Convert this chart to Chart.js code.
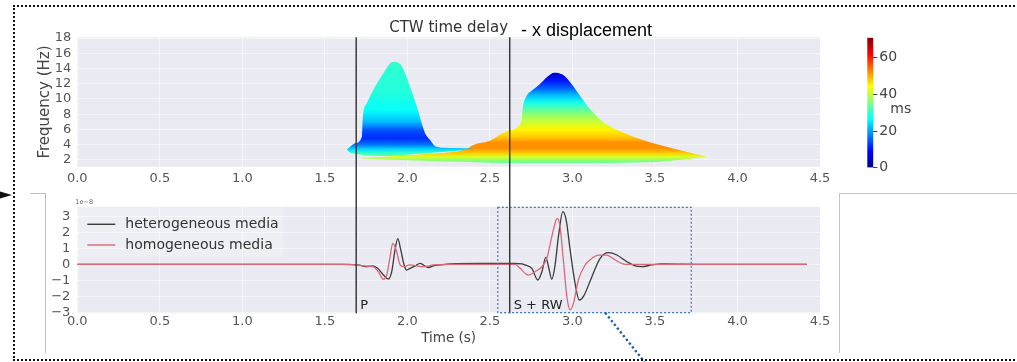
<!DOCTYPE html>
<html>
<head>
<meta charset="utf-8">
<script src="https://cdn.jsdelivr.net/npm/chart.js@4.4.1/dist/chart.umd.min.js"></script>
<style>
  html, body { margin: 0; padding: 0; background: #fff; }
  body { width: 1017px; height: 362px; position: relative; overflow: hidden; font-family: 'DejaVu Sans', sans-serif; }
  canvas { position: absolute; }
  .ov { position: absolute; pointer-events: none; }
</style>
</head>
<body>
<canvas id="topChart" width="850" height="190" style="left:0;top:0"></canvas>
<canvas id="cbarChart" width="80" height="190" style="left:850px;top:0"></canvas>
<canvas id="botChart" width="850" height="172" style="left:0;top:190px"></canvas>

<div class="ov" style="left:13px;top:5px;width:1004px;height:352px;border-top:2px dotted #111;border-left:2px dotted #111;border-bottom:2px dotted #111;"></div>
<svg class="ov" style="left:0;top:185px" width="16" height="20"><polygon points="0,6.5 12,10 0,13.5" fill="#111"/></svg>
<div class="ov" style="left:30px;top:193px;width:15px;height:159px;border-top:1.5px solid #bdbdbd;border-right:1.5px solid #bdbdbd;"></div>
<div class="ov" style="left:839px;top:193px;width:180px;height:159px;border-top:1.5px solid #c4c4c4;border-left:1.5px solid #c4c4c4;"></div>
<div class="ov" style="left:521px;top:20px;font-family:'Liberation Sans',Arial,sans-serif;font-size:18px;line-height:20px;color:#000;white-space:nowrap;">- x displacement</div>

<script>
// ---------------- DATA ----------------
// shared time axis (s)
const timeTicks = [0, 0.5, 1.0, 1.5, 2.0, 2.5, 3.0, 3.5, 4.0, 4.5];
const freqTicks = [2, 4, 6, 8, 10, 12, 14, 16, 18];
const ampTicks = [-3, -2, -1, 0, 1, 2, 3];
const delayTicks = [0, 20, 40, 60];
const delayMax = 71;                 // ms, colour-bar top
const arrivalTimes = [1.69, 2.62];   // s
const arrivalLabels = ['P', 'S + RW'];
const zoomBoxTimes = [2.548, 3.72];  // highlighted window (s)

// Blob A (P-wave packet): time, upper / lower frequency envelope (Hz)
const blobATime  = [1.633, 1.652, 1.683, 1.724, 1.730, 1.754, 1.794, 1.855, 1.895, 1.925, 1.966, 2.016, 2.057, 2.087, 2.107, 2.138, 2.168, 2.23, 2.30, 2.40];
const blobAUpper = [3.39, 3.7, 4.18, 5.05, 7.7, 9.45, 11.2, 13.4, 14.7, 14.9, 14.3, 11.6, 9.0, 6.8, 5.5, 4.6, 3.8, 3.6, 3.55, 3.45];
const blobALower = [3.39, 2.95, 2.78, 2.66, 2.64, 2.6, 2.55, 2.5, 2.52, 2.55, 2.6, 2.7, 2.78, 2.82, 2.85, 2.9, 2.95, 3.05, 3.2, 3.35];
// delay (ms) as a function of frequency inside blob A
const blobAStopFreq  = [2.4, 2.9, 3.4, 4.0, 4.8, 5.8, 7.0, 8.5, 11, 15];
const blobAStopDelay = [35, 30, 24, 17, 12, 14, 22, 27, 29, 30];

// Blob B (S + surface-wave packet)
const blobBTime  = [1.70, 2.00, 2.20, 2.30, 2.36, 2.40, 2.50, 2.56, 2.62, 2.69, 2.70, 2.72, 2.76, 2.80, 2.85, 2.89, 2.94, 2.99, 3.05, 3.11, 3.17, 3.25, 3.37, 3.53, 3.69, 3.815];
const blobBUpper = [2.2, 2.6, 2.9, 3.1, 3.45, 3.96, 4.5, 5.3, 5.9, 7.0, 9.0, 10.3, 11.2, 11.9, 12.95, 13.45, 13.2, 12.1, 10.3, 8.6, 7.25, 6.15, 5.05, 3.96, 3.08, 2.42];
const blobBLower = [2.2, 1.95, 1.82, 1.75, 1.72, 1.7, 1.62, 1.6, 1.58, 1.56, 1.56, 1.56, 1.55, 1.55, 1.55, 1.55, 1.55, 1.55, 1.55, 1.56, 1.57, 1.6, 1.65, 1.76, 2.08, 2.42];
const blobBStopFreq  = [1.5, 2.0, 2.4, 2.9, 3.5, 4.3, 5.0, 6.0, 7.2, 8.3, 9.5, 10.5, 11.5, 12.5, 13.5];
const blobBStopDelay = [33, 37, 42, 48, 52, 52, 48, 45, 40, 35, 28, 22, 15, 10, 5];

// Waveforms, x displacement (units of 1e-8)
const heteroTime = [0, 1.60, 1.71, 1.75, 1.79, 1.82, 1.855, 1.885, 1.905, 1.925, 1.942, 1.96, 1.98, 1.996, 2.016, 2.047, 2.077, 2.097, 2.127, 2.158, 2.20, 2.26, 2.45, 2.65, 2.693, 2.713, 2.754, 2.79, 2.815, 2.839, 2.855, 2.875, 2.895, 2.915, 2.942, 2.962, 2.986, 3.016, 3.041, 3.067, 3.118, 3.168, 3.218, 3.269, 3.33, 3.38, 3.42, 3.48, 3.54, 3.8, 4.42];
const heteroAmp  = [0, 0, -0.05, -0.15, -0.1, -0.25, -0.67, -0.92, -0.46, 0.9, 1.6, 0.9, -0.04, -0.36, -0.25, -0.1, 0.06, -0.04, -0.2, -0.1, -0.04, 0.03, 0.05, 0.05, 0.03, -0.04, -0.25, -0.98, -0.46, 0.44, -0.15, -0.94, -0.04, 1.73, 3.29, 2.77, 0.9, -1.19, -2.23, -2.0, -0.77, 0.375, 0.73, 0.58, 0.16, -0.1, -0.15, -0.04, 0.03, 0, 0];
const homoTime = [0, 1.65, 1.733, 1.792, 1.824, 1.855, 1.875, 1.895, 1.911, 1.932, 1.956, 1.976, 2.016, 2.095, 2.156, 2.25, 2.62, 2.653, 2.683, 2.733, 2.774, 2.815, 2.845, 2.875, 2.901, 2.909, 2.925, 2.945, 2.966, 2.986, 3.006, 3.036, 3.077, 3.118, 3.158, 3.208, 3.259, 3.319, 3.5, 4.42];
const homoAmp  = [0, 0, -0.1, -0.15, -0.46, -0.94, -0.67, 0.47, 1.3, 0.9, -0.04, -0.15, -0.04, -0.15, -0.04, 0, 0, 0, -0.25, -0.67, -0.46, -0.15, 0.375, 1.73, 2.77, 2.87, 2.35, 0.27, -2.0, -2.85, -2.44, -0.98, -0.04, 0.375, 0.58, 0.58, 0.27, 0, 0, 0];
const seriesNames = ['heterogeneous media', 'homogeneous media'];
const seriesColors = ['#3a3a3a', '#d9687a'];

// ---------------- helpers ----------------
const FONT = "'DejaVu Sans', sans-serif";
const clamp = (v, a, b) => Math.max(a, Math.min(b, v));
function jet(v) {
  v = clamp(v, 0, 1);
  const r = clamp(1.5 - Math.abs(4 * v - 3), 0, 1);
  const g = clamp(1.5 - Math.abs(4 * v - 2), 0, 1);
  const b = clamp(1.5 - Math.abs(4 * v - 1), 0, 1);
  return `rgb(${Math.round(r * 255)},${Math.round(g * 255)},${Math.round(b * 255)})`;
}
const pts = (xs, ys) => xs.map((x, i) => ({ x, y: ys[i] }));
function freqGradient(freqs, delays) {
  return (ctx) => {
    const chart = ctx.chart;
    if (!chart.chartArea) return 'rgba(0,0,0,0)';
    const y = chart.scales.y;
    const p0 = y.getPixelForValue(y.max), p1 = y.getPixelForValue(y.min);
    const g = chart.ctx.createLinearGradient(0, p0, 0, p1);
    freqs.forEach((f, i) => {
      const s = clamp((y.getPixelForValue(f) - p0) / (p1 - p0), 0, 1);
      g.addColorStop(s, jet(delays[i] / delayMax));
    });
    return g;
  };
}
const bgPlugin = {
  id: 'bg',
  beforeDraw(chart) {
    const { ctx, chartArea: a } = chart;
    ctx.save(); ctx.fillStyle = '#eaeaf2';
    ctx.fillRect(a.left, a.top, a.right - a.left, a.bottom - a.top);
    ctx.restore();
  }
};
const fixedTicks = (arr) => (scale) => { scale.ticks = arr.map(v => ({ value: v })); };
const fmt1 = (v) => Number(v).toFixed(1);
const fmtMinus = (v) => (v < 0 ? '\u2212' + Math.abs(v) : String(v));

const X_LEFT = 77.3;  // y-axis band width
const gridCol = 'rgba(255,255,255,0.5)';

// ---------------- TOP: delay map ----------------
const topPlugin = {
  id: 'topDeco',
  afterDatasetsDraw(chart) {
    const { ctx, chartArea: a, scales } = chart;
    ctx.save();
    ctx.strokeStyle = '#3c3c3c'; ctx.lineWidth = 1.5;
    arrivalTimes.forEach(t => {
      const x = scales.x.getPixelForValue(t);
      ctx.beginPath(); ctx.moveTo(x, a.top); ctx.lineTo(x, chart.height); ctx.stroke();
    });
    ctx.fillStyle = '#333'; ctx.font = '15px ' + FONT;
    ctx.textAlign = 'center'; ctx.textBaseline = 'middle';
    ctx.fillText('CTW time delay', (a.left + a.right) / 2, a.top - 9);
    ctx.restore();
  }
};
const fillDs = (time, up, lo, freqs, delays, order) => [
  { data: pts(time, up), fill: '+1', backgroundColor: freqGradient(freqs, delays), borderWidth: 0, borderColor: 'rgba(0,0,0,0)', pointRadius: 0, cubicInterpolationMode: 'monotone', order },
  { data: pts(time, lo), fill: false, borderWidth: 0, borderColor: 'rgba(0,0,0,0)', pointRadius: 0, cubicInterpolationMode: 'monotone', order }
];
new Chart(document.getElementById('topChart'), {
  type: 'line',
  data: { datasets: [
    ...fillDs(blobBTime, blobBUpper, blobBLower, blobBStopFreq, blobBStopDelay, 2),
    ...fillDs(blobATime, blobAUpper, blobALower, blobAStopFreq, blobAStopDelay, 1)
  ] },
  options: {
    responsive: false, animation: false, devicePixelRatio: 1, events: [],
    layout: { padding: { left: 0, top: 37.3, right: 30, bottom: 0 } },
    plugins: { legend: { display: false }, tooltip: { enabled: false } },
    scales: {
      x: { type: 'linear', min: 0, max: 4.5, afterBuildTicks: fixedTicks(timeTicks),
           afterFit: (s) => { s.height = 23.3; },
           grid: { color: gridCol, drawTicks: false }, border: { display: false },
           ticks: { padding: 4, color: '#555', font: { family: FONT, size: 13 }, callback: fmt1, maxRotation: 0, autoSkip: false } },
      y: { min: 1.1, max: 18.1, afterBuildTicks: fixedTicks(freqTicks),
           afterFit: (s) => { s.width = X_LEFT; },
           grid: { color: gridCol, drawTicks: false }, border: { display: false },
           ticks: { padding: 6, color: '#555', font: { family: FONT, size: 13 }, autoSkip: false },
           title: { display: true, text: 'Frequency (Hz)', color: '#444', font: { family: FONT, size: 15 }, padding: { top: 36, bottom: 0 } } }
    }
  },
  plugins: [bgPlugin, topPlugin]
});

// ---------------- COLOUR BAR ----------------
new Chart(document.getElementById('cbarChart'), {
  type: 'bar',
  data: { labels: [''], datasets: [{ data: [delayMax], borderWidth: 0, barPercentage: 1, categoryPercentage: 1,
    backgroundColor: (ctx) => {
      const chart = ctx.chart;
      if (!chart.chartArea) return 'rgba(0,0,0,0)';
      const y = chart.scales.y;
      const g = chart.ctx.createLinearGradient(0, y.getPixelForValue(0), 0, y.getPixelForValue(delayMax));
      for (let i = 0; i <= 32; i++) g.addColorStop(i / 32, jet(i / 32));
      return g;
    } }] },
  options: {
    responsive: false, animation: false, devicePixelRatio: 1, events: [],
    layout: { padding: { left: 17.3, top: 37.7, right: 21.7, bottom: 22.3 } },
    plugins: { legend: { display: false }, tooltip: { enabled: false } },
    scales: {
      x: { display: false },
      y: { position: 'right', min: 0, max: delayMax, afterBuildTicks: fixedTicks(delayTicks),
           afterFit: (s) => { s.width = 35; },
           grid: { drawOnChartArea: false, drawTicks: true, tickLength: 4, color: '#444' }, border: { display: false },
           ticks: { padding: 2, color: '#444', font: { family: FONT, size: 14 } } }
    }
  },
  plugins: [{
    id: 'msLabel',
    afterDraw(chart) {
      const { ctx, chartArea: a } = chart;
      ctx.save(); ctx.fillStyle = '#444'; ctx.font = '14px ' + FONT;
      ctx.textAlign = 'left'; ctx.textBaseline = 'middle';
      ctx.fillText('ms', a.right + 17, a.top + 72);
      ctx.restore();
    }
  }]
});

// ---------------- BOTTOM: waveforms ----------------
const botPlugin = {
  id: 'botDeco',
  afterDatasetsDraw(chart) {
    const { ctx, chartArea: a, scales } = chart;
    ctx.save();
    ctx.strokeStyle = '#3c3c3c'; ctx.lineWidth = 1.5;
    ctx.fillStyle = '#222'; ctx.font = '13px ' + FONT; ctx.textBaseline = 'middle'; ctx.textAlign = 'left';
    arrivalTimes.forEach((t, i) => {
      const x = scales.x.getPixelForValue(t);
      ctx.beginPath(); ctx.moveTo(x, 0); ctx.lineTo(x, a.bottom); ctx.stroke();
      ctx.fillText(arrivalLabels[i], x + 4, a.bottom - 8);
    });
    // legend
    ctx.fillStyle = 'rgba(255,255,255,0.22)';
    ctx.fillRect(a.left, a.top, 206, 50);
    ctx.font = '14px ' + FONT;
    seriesNames.forEach((n, i) => {
      const y = a.top + 17.6 + i * 20.7;
      ctx.strokeStyle = seriesColors[i]; ctx.lineWidth = 1.4;
      ctx.beginPath(); ctx.moveTo(a.left + 10, y); ctx.lineTo(a.left + 38, y); ctx.stroke();
      ctx.fillStyle = '#333'; ctx.fillText(n, a.left + 48, y);
    });
    // offset text
    ctx.fillStyle = '#666'; ctx.font = '6.5px ' + FONT; ctx.textBaseline = 'bottom';
    ctx.fillText('1e\u22128', a.left - 2, a.top - 1);
    // highlighted window
    const x0 = scales.x.getPixelForValue(zoomBoxTimes[0]), x1 = scales.x.getPixelForValue(zoomBoxTimes[1]);
    ctx.strokeStyle = '#3b78c0'; ctx.lineWidth = 1.2; ctx.setLineDash([2, 2]);
    ctx.strokeRect(x0, a.top + 0.6, x1 - x0, a.bottom - a.top - 1.2);
    ctx.strokeStyle = '#1f5fa5'; ctx.lineWidth = 2.4; ctx.setLineDash([2.4, 2.4]);
    ctx.beginPath();
    ctx.moveTo(scales.x.getPixelForValue(3.198), a.bottom - 0.6);
    ctx.lineTo(scales.x.getPixelForValue(3.437), chart.height);
    ctx.stroke();
    ctx.restore();
  }
};
new Chart(document.getElementById('botChart'), {
  type: 'line',
  data: { datasets: [
    { label: seriesNames[0], data: pts(heteroTime, heteroAmp), borderColor: seriesColors[0], borderWidth: 1.3, pointRadius: 0, fill: false, cubicInterpolationMode: 'monotone', order: 2 },
    { label: seriesNames[1], data: pts(homoTime, homoAmp), borderColor: seriesColors[1], borderWidth: 1.3, pointRadius: 0, fill: false, cubicInterpolationMode: 'monotone', order: 1 }
  ] },
  options: {
    responsive: false, animation: false, devicePixelRatio: 1, events: [],
    layout: { padding: { left: 0, top: 16.7, right: 30, bottom: 0 } },
    plugins: { legend: { display: false }, tooltip: { enabled: false } },
    scales: {
      x: { type: 'linear', min: 0, max: 4.5, afterBuildTicks: fixedTicks(timeTicks),
           afterFit: (s) => { s.height = 48.7; },
           grid: { color: gridCol, drawTicks: false }, border: { display: false },
           ticks: { padding: 1, color: '#555', font: { family: FONT, size: 13 }, callback: fmt1, maxRotation: 0, autoSkip: false },
           title: { display: true, text: 'Time (s)', color: '#444', font: { family: FONT, size: 13.5 }, padding: { top: 0, bottom: 15.9 } } },
      y: { min: -3.06, max: 3.6, afterBuildTicks: fixedTicks(ampTicks),
           afterFit: (s) => { s.width = X_LEFT; },
           grid: { color: gridCol, drawTicks: false }, border: { display: false },
           ticks: { padding: 7, color: '#555', font: { family: FONT, size: 13 }, callback: fmtMinus, autoSkip: false } }
    }
  },
  plugins: [bgPlugin, botPlugin]
});
</script>
</body>
</html>
